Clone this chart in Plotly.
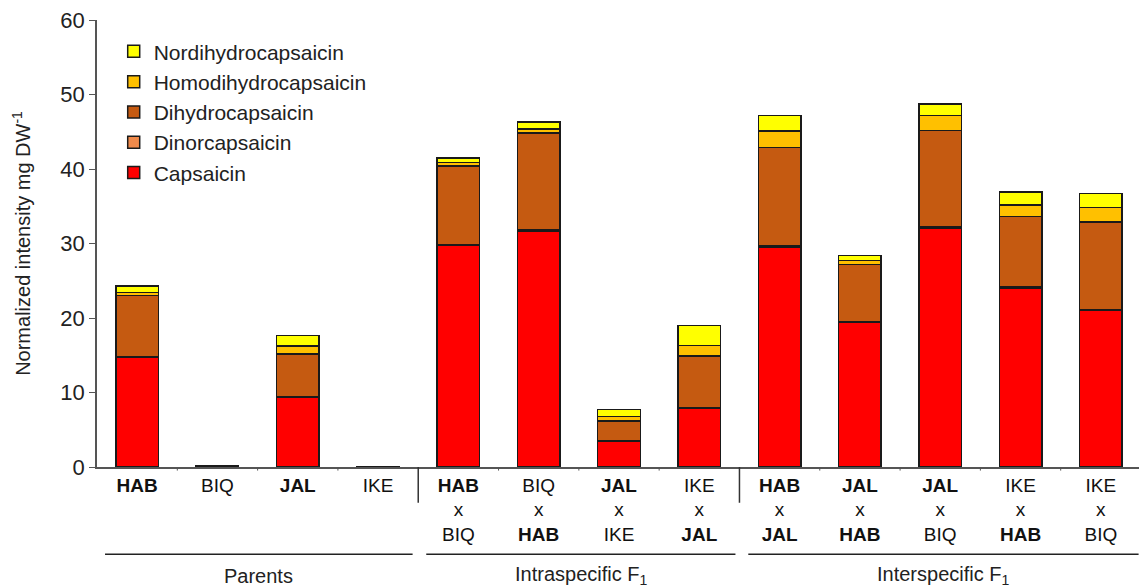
import plotly.graph_objects as go

categories = ["HAB", "BIQ", "JAL", "IKE",
              "HAB×BIQ", "BIQ×HAB", "JAL×IKE", "IKE×JAL",
              "HAB×JAL", "JAL×HAB", "JAL×BIQ", "IKE×HAB", "IKE×BIQ"]
tick_labels = ["<b>HAB</b>", "BIQ", "<b>JAL</b>", "IKE",
               "<b>HAB</b><br>x<br>BIQ", "BIQ<br>x<br><b>HAB</b>",
               "<b>JAL</b><br>x<br>IKE", "IKE<br>x<br><b>JAL</b>",
               "<b>HAB</b><br>x<br><b>JAL</b>", "<b>JAL</b><br>x<br><b>HAB</b>",
               "<b>JAL</b><br>x<br>BIQ", "IKE<br>x<br><b>HAB</b>", "IKE<br>x<br>BIQ"]

capsaicin = [14.7, 0.15, 9.4, 0.08, 29.7, 31.7, 3.5, 7.9, 29.5, 19.4, 32.1, 24.0, 21.0]
dinorcapsaicin = [0.1, 0.0, 0.05, 0.0, 0.1, 0.1, 0.05, 0.05, 0.15, 0.1, 0.15, 0.15, 0.1]
dihydrocapsaicin = [8.2, 0.05, 5.7, 0.02, 10.6, 13.0, 2.65, 6.95, 13.25, 7.7, 12.95, 9.45, 11.8]
homodihydrocapsaicin = [0.4, 0.0, 1.1, 0.0, 0.5, 0.6, 0.55, 1.4, 2.2, 0.5, 2.0, 1.6, 1.9]
nordihydrocapsaicin = [0.9, 0.0, 1.4, 0.0, 0.6, 0.9, 0.95, 2.7, 2.1, 0.7, 1.5, 1.7, 1.9]

series = [
    ("Capsaicin", capsaicin, "#FF0000"),
    ("Dinorcapsaicin", dinorcapsaicin, "#F08A4B"),
    ("Dihydrocapsaicin", dihydrocapsaicin, "#C55A11"),
    ("Homodihydrocapsaicin", homodihydrocapsaicin, "#FFC000"),
    ("Nordihydrocapsaicin", nordihydrocapsaicin, "#FFFF00"),
]

groups = [("Parents", -0.4, 3.43), ("Intraspecific F<sub>1</sub>", 3.6, 7.45),
          ("Interspecific F<sub>1</sub>", 7.61, 12.47)]
separators = [3.5, 7.5]

FONT = "Liberation Sans, Arial, sans-serif"

fig = go.Figure()
for i, (name, vals, col) in enumerate(series):
    fig.add_trace(go.Bar(
        x=list(range(len(categories))), y=vals, name=name,
        marker=dict(color=col, line=dict(color="#1a1a1a", width=1.5)),
        width=0.53,
    ))

for label, x0, x1 in groups:
    fig.add_shape(type="line", xref="x", yref="paper", x0=x0, x1=x1,
                  y0=-0.195, y1=-0.195, line=dict(color="#222", width=1.5))
    fig.add_annotation(x=(x0 + x1) / 2, y=-0.243, xref="x", yref="paper",
                       text=label, showarrow=False, yanchor="middle",
                       font=dict(size=20, color="#222", family=FONT))
for s in separators:
    fig.add_shape(type="line", xref="x", yref="paper", x0=s, x1=s,
                  y0=0, y1=-0.08, line=dict(color="#333", width=1.5))

fig.update_layout(
    barmode="stack",
    width=1139, height=579,
    margin=dict(l=89, r=6, t=12, b=120),
    paper_bgcolor="white", plot_bgcolor="white",
    font=dict(family=FONT, color="#222"),
    showlegend=True,
    legend=dict(traceorder="reversed",
                x=0.016, y=0.975, xanchor="left", yanchor="top",
                font=dict(size=21, color="#222", family=FONT),
                bgcolor="rgba(0,0,0,0)"),
    xaxis=dict(
        range=[-0.5, 12.5], tickmode="array",
        tickvals=list(range(len(categories))), ticktext=tick_labels,
        showline=True, linecolor="#555", linewidth=1.5,
        ticks="", showgrid=False, zeroline=False, automargin=False,
        tickfont=dict(size=19, color="#111", family=FONT),
    ),
    yaxis=dict(
        range=[0, 60], tickvals=[0, 10, 20, 30, 40, 50, 60],
        showline=True, linecolor="#555", linewidth=1.5,
        ticks="outside", ticklen=6, tickcolor="#555",
        ticklabeloverflow="allow", automargin=False,
        showgrid=False, zeroline=False,
        tickfont=dict(size=22, color="#222", family=FONT),
        title=dict(text="Normalized intensity mg DW<sup>-1</sup>",
                   font=dict(size=20, color="#222", family=FONT), standoff=24),
    ),
)

# small boundary ticks on x axis
for b in range(1, len(categories)):
    if b - 0.5 not in separators:
        fig.add_shape(type="line", xref="x", yref="paper", x0=b - 0.5, x1=b - 0.5,
                      y0=0, y1=-0.008, line=dict(color="#555", width=1))

fig.write_html("out.html")
